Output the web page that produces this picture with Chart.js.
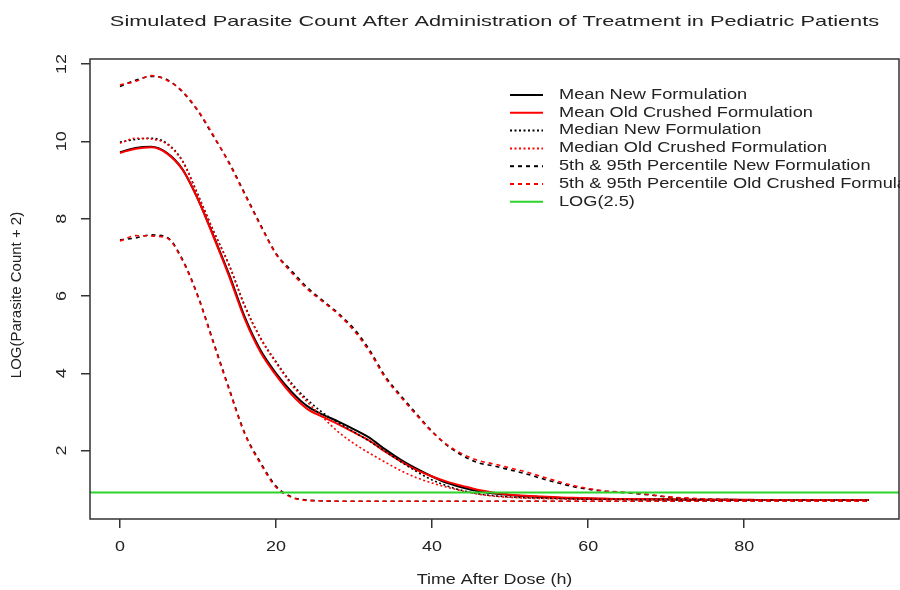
<!DOCTYPE html>
<html>
<head>
<meta charset="utf-8">
<title>Simulated Parasite Count</title>
<script src="https://cdn.jsdelivr.net/npm/chart.js@4.4.1/dist/chart.umd.min.js"></script>
<style>
  html, body { margin: 0; padding: 0; background: #fff; }
</style>
</head>
<body>
<canvas id="parasiteChart" width="900" height="590"></canvas>
<script>
// time after dose (h)
const hours = [0, 2, 4, 6, 8, 10, 12, 14, 16, 18, 20, 22, 24, 26, 28, 30, 32, 34, 36, 38, 40, 42, 44, 46, 48,
  50, 52, 54, 56, 58, 60, 62, 64, 66, 68, 70, 72, 74, 76, 78, 80, 82, 84, 86, 88, 90, 92, 94, 96];

// LOG(parasite count + 2)
const meanNew = [9.72, 9.83, 9.86, 9.70, 9.28, 8.50, 7.55, 6.55, 5.45, 4.60, 4.00, 3.52, 3.15, 2.93, 2.75, 2.55,
  2.33, 2.03, 1.76, 1.53, 1.33, 1.16, 1.04, 0.95, 0.89, 0.85, 0.82, 0.80, 0.78, 0.77, 0.76, 0.75, 0.75, 0.74,
  0.74, 0.74, 0.73, 0.73, 0.73, 0.73, 0.72, 0.72, 0.72, 0.72, 0.72, 0.72, 0.72, 0.72, 0.72];
const meanOld = [9.70, 9.81, 9.85, 9.69, 9.27, 8.50, 7.52, 6.50, 5.40, 4.55, 3.95, 3.45, 3.08, 2.87, 2.68, 2.47,
  2.25, 1.97, 1.72, 1.50, 1.33, 1.19, 1.08, 0.98, 0.91, 0.86, 0.83, 0.81, 0.79, 0.78, 0.77, 0.76, 0.75, 0.75,
  0.74, 0.74, 0.74, 0.73, 0.73, 0.73, 0.73, 0.72, 0.72, 0.72, 0.72, 0.72, 0.72, 0.72, 0.72];
const medianNew = [9.98, 10.05, 10.08, 9.95, 9.50, 8.62, 7.68, 6.80, 5.75, 4.92, 4.30, 3.74, 3.32, 2.98, 2.72,
  2.48, 2.24, 1.98, 1.71, 1.46, 1.24, 1.08, 0.96, 0.88, 0.83, 0.80, 0.78, 0.77, 0.76, 0.75, 0.74, 0.74, 0.74,
  0.73, 0.73, 0.73, 0.73, 0.72, 0.72, 0.72, 0.72, 0.72, 0.72, 0.72, 0.72, 0.72, 0.72, 0.72, 0.72];
const medianOld = [9.95, 10.08, 10.06, 9.93, 9.48, 8.60, 7.66, 6.78, 5.72, 4.90, 4.27, 3.70, 3.26, 2.86, 2.48,
  2.18, 1.93, 1.70, 1.48, 1.30, 1.16, 1.05, 0.95, 0.87, 0.82, 0.79, 0.77, 0.76, 0.75, 0.74, 0.74, 0.73, 0.73,
  0.73, 0.73, 0.72, 0.72, 0.72, 0.72, 0.72, 0.72, 0.72, 0.72, 0.72, 0.72, 0.72, 0.72, 0.72, 0.72];
const p95New = [11.42, 11.58, 11.68, 11.60, 11.28, 10.78, 10.12, 9.45, 8.65, 7.85, 7.10, 6.65, 6.22, 5.88, 5.55,
  5.15, 4.60, 3.92, 3.42, 2.95, 2.50, 2.12, 1.86, 1.68, 1.60, 1.50, 1.40, 1.28, 1.17, 1.07, 1.00, 0.95, 0.92,
  0.89, 0.85, 0.80, 0.77, 0.75, 0.74, 0.73, 0.72, 0.72, 0.72, 0.72, 0.72, 0.72, 0.72, 0.72, 0.72];
const p95Old = [11.46, 11.55, 11.70, 11.58, 11.30, 10.80, 10.15, 9.42, 8.62, 7.82, 7.08, 6.60, 6.18, 5.85, 5.52,
  5.10, 4.55, 3.88, 3.38, 2.92, 2.48, 2.14, 1.90, 1.74, 1.65, 1.55, 1.45, 1.33, 1.21, 1.10, 1.02, 0.96, 0.93,
  0.90, 0.86, 0.81, 0.78, 0.76, 0.74, 0.73, 0.72, 0.72, 0.72, 0.72, 0.72, 0.72, 0.72, 0.72, 0.72];
const p5New = [7.45, 7.50, 7.58, 7.52, 6.95, 6.00, 4.80, 3.60, 2.45, 1.70, 1.08, 0.80, 0.72, 0.70, 0.69, 0.69,
  0.69, 0.69, 0.69, 0.69, 0.69, 0.69, 0.69, 0.69, 0.69, 0.69, 0.69, 0.69, 0.69, 0.69, 0.69, 0.69, 0.69, 0.69,
  0.69, 0.69, 0.69, 0.69, 0.69, 0.69, 0.69, 0.69, 0.69, 0.69, 0.69, 0.69, 0.69, 0.69, 0.69];
const p5Old = [7.42, 7.56, 7.55, 7.50, 6.92, 5.97, 4.76, 3.56, 2.42, 1.66, 1.05, 0.79, 0.71, 0.70, 0.69, 0.69,
  0.69, 0.69, 0.69, 0.69, 0.69, 0.69, 0.69, 0.69, 0.69, 0.69, 0.69, 0.69, 0.69, 0.69, 0.69, 0.69, 0.69, 0.69,
  0.69, 0.69, 0.69, 0.69, 0.69, 0.69, 0.69, 0.69, 0.69, 0.69, 0.69, 0.69, 0.69, 0.69, 0.69];
const threshold = Math.log(2.5);

const xLimits = [-3.84, 99.84];
const yLimits = [0.23, 12.13];
const xTicks = [0, 20, 40, 60, 80];
const yTicks = [2, 4, 6, 8, 10, 12];

const legendLabels = [
  'Mean New Formulation',
  'Mean Old Crushed Formulation',
  'Median New Formulation',
  'Median Old Crushed Formulation',
  '5th & 95th Percentile New Formulation',
  '5th & 95th Percentile Old Crushed Formulation',
  'LOG(2.5)'
];

const RED = '#ff0000', BLACK = '#000000', GREEN = '#2bd42b';
const SOLID = [], DOTTED = [2, 2.5], DASHED = [4, 4];
const legendStyles = [
  { color: BLACK, dash: SOLID }, { color: RED, dash: SOLID },
  { color: BLACK, dash: DOTTED }, { color: RED, dash: DOTTED },
  { color: BLACK, dash: DASHED }, { color: RED, dash: DASHED },
  { color: GREEN, dash: SOLID }
];

const pts = (arr) => hours.map((h, i) => ({ x: h, y: arr[i] }));
function line(data, color, dash, width) {
  return {
    data: data, borderColor: color, borderDash: dash, borderWidth: width,
    pointRadius: 0, fill: false, cubicInterpolationMode: 'monotone'
  };
}

const FONT = '"Liberation Sans", Arial, sans-serif';
function say(ctx, text, x, y, size, align, sx, rot) {
  ctx.save();
  ctx.translate(x, y);
  if (rot) ctx.rotate(rot);
  ctx.scale(sx, 1);
  ctx.font = size + 'px ' + FONT;
  ctx.textAlign = align;
  ctx.textBaseline = 'middle';
  ctx.fillStyle = '#222';
  ctx.fillText(text, 0, 0);
  ctx.restore();
}

// R style frame, labels and legend
const rFrame = {
  id: 'rFrame',
  afterDraw(chart) {
    const ctx = chart.ctx;
    const a = chart.chartArea;
    const xs = chart.scales.x, ys = chart.scales.y;
    ctx.save();
    ctx.strokeStyle = '#333';
    ctx.lineWidth = 1.5;
    ctx.strokeRect(a.left, a.top, a.right - a.left, a.bottom - a.top);
    ctx.restore();

    say(ctx, 'Simulated Parasite Count After Administration of Treatment in Pediatric Patients',
      (a.left + a.right) / 2, 22, 15, 'center', 1.45);
    xTicks.forEach(v => say(ctx, String(v), xs.getPixelForValue(v), 547, 14, 'center', 1.28));
    yTicks.forEach(v => say(ctx, String(v), 62, ys.getPixelForValue(v), 14, 'center', 1.28, -Math.PI / 2));
    say(ctx, 'Time After Dose (h)', (a.left + a.right) / 2, 580, 14, 'center', 1.28);
    say(ctx, 'LOG(Parasite Count + 2)', 17, 295, 15, 'center', 1, -Math.PI / 2);

    legendLabels.forEach((lab, i) => {
      const y = 95 + i * 17.8;
      ctx.save();
      ctx.strokeStyle = legendStyles[i].color;
      ctx.setLineDash(legendStyles[i].dash);
      ctx.lineWidth = 2;
      ctx.beginPath();
      ctx.moveTo(510, y);
      ctx.lineTo(543, y);
      ctx.stroke();
      ctx.restore();
      say(ctx, lab, 559, y, 14, 'left', 1.3);
    });
  }
};

new Chart(document.getElementById('parasiteChart'), {
  type: 'line',
  data: {
    datasets: [
      line([{ x: xLimits[0], y: threshold }, { x: xLimits[1], y: threshold }], GREEN, SOLID, 2),
      line(pts(p95Old), RED, DASHED, 1.6),
      line(pts(p5Old), RED, DASHED, 1.6),
      line(pts(p95New), BLACK, DASHED, 1.6),
      line(pts(p5New), BLACK, DASHED, 1.6),
      line(pts(medianOld), RED, DOTTED, 1.6),
      line(pts(medianNew), BLACK, DOTTED, 1.6),
      line(pts(meanOld), RED, SOLID, 2),
      line(pts(meanNew), BLACK, SOLID, 2)
    ]
  },
  options: {
    responsive: false,
    animation: false,
    layout: { padding: { top: 59, right: 1, left: 0, bottom: 0 } },
    plugins: {
      legend: { display: false },
      title: { display: false },
      tooltip: { enabled: false }
    },
    scales: {
      x: {
        type: 'linear',
        min: xLimits[0],
        max: xLimits[1],
        afterBuildTicks: (s) => { s.ticks = xTicks.map(v => ({ value: v })); },
        afterFit: (s) => { s.height = 71; },
        ticks: { display: false },
        grid: { drawOnChartArea: false, tickLength: 9, color: '#333', lineWidth: 1.5 },
        border: { display: false }
      },
      y: {
        min: yLimits[0],
        max: yLimits[1],
        afterBuildTicks: (s) => { s.ticks = yTicks.map(v => ({ value: v })); },
        afterFit: (s) => { s.width = 90; },
        ticks: { display: false },
        grid: { drawOnChartArea: false, tickLength: 9, color: '#333', lineWidth: 1.5 },
        border: { display: false }
      }
    }
  },
  plugins: [rFrame]
});
</script>
</body>
</html>
